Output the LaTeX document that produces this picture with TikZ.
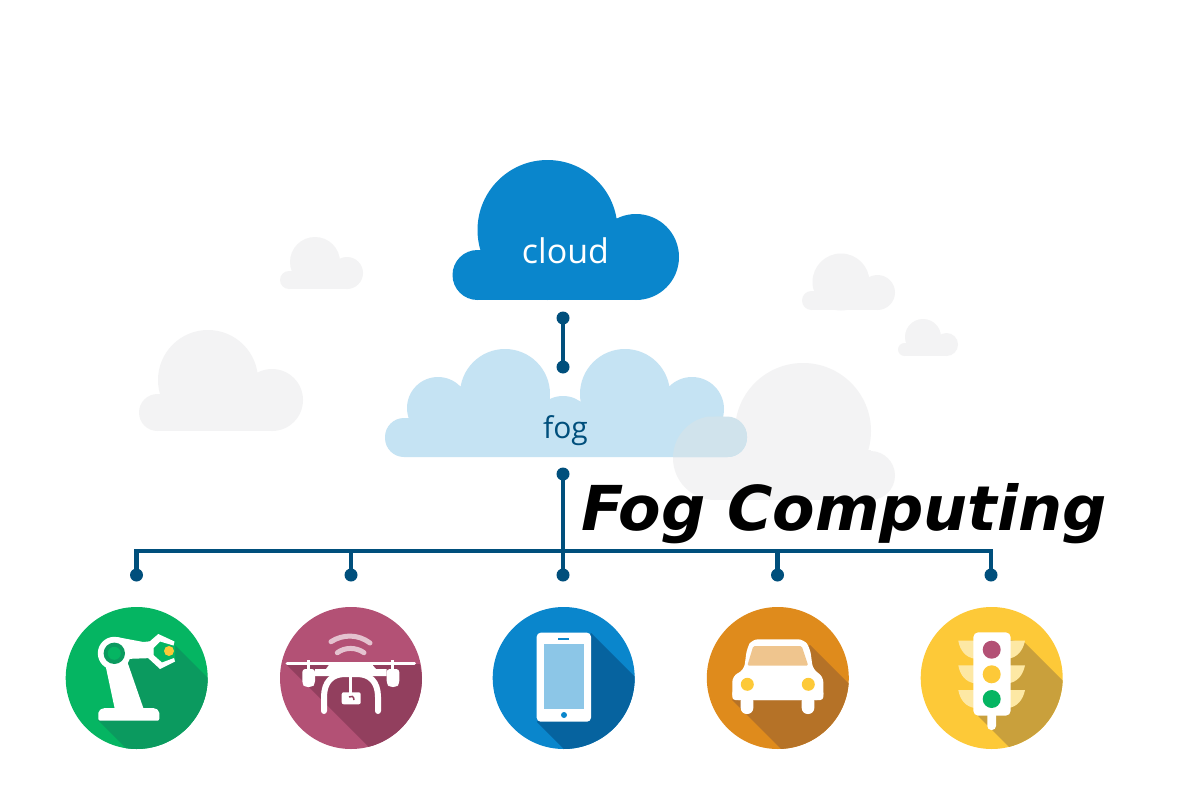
\documentclass[tikz,border=0pt]{standalone}
\usepackage{fontspec}
\setmainfont{Open Sans}
\newfontfamily\titlefont{DejaVu Sans}
\definecolor{cBlue}{HTML}{0A86CC}
\definecolor{cBlueD}{HTML}{06639F}
\definecolor{cFog}{HTML}{C5E3F3}
\definecolor{cOver}{HTML}{D0E3EC}
\definecolor{cGray}{HTML}{F3F3F4}
\definecolor{cLine}{HTML}{004F7C}
\definecolor{cGreen}{HTML}{05B562}
\definecolor{cGreenD}{HTML}{0B9A5F}
\definecolor{cPink}{HTML}{B35175}
\definecolor{cPinkD}{HTML}{923F5E}
\definecolor{cOrange}{HTML}{DF8B1C}
\definecolor{cOrangeD}{HTML}{B57227}
\definecolor{cYellow}{HTML}{FDC938}
\definecolor{cYellowD}{HTML}{C9A03C}
\definecolor{cWing}{HTML}{FDE8A4}
\tikzset{
  dotnode/.style={circle,fill=cLine,inner sep=0pt,minimum size=13pt},
  wire/.style={draw=cLine,line width=4.5pt},
  icon/.style={circle,inner sep=0pt,minimum size=142pt},
  wingshape/.style={fill=cWing},
}
\begin{document}
\begin{tikzpicture}[x=1pt,y=-1pt]
\useasboundingbox (0,0) rectangle (1200,800);
\fill[white] (0,0) rectangle (1200,800);
% grey clouds
\fill[cGray] (208,380) circle (50) (272,400) circle (31) (157.5,412.5) circle (18.5);
\fill[cGray] (157.5,394) rectangle (272,431);
\fill[cGray] (315,262) circle (25) (347,273) circle (16) (289,280) circle (9);
\fill[cGray] (289,271) rectangle (347,289);
\fill[cGray] (841,282) circle (28.5) (877.5,292.5) circle (17.5) (811.5,300.5) circle (9.5);
\fill[cGray] (811.5,291) rectangle (877.5,310);
\fill[cGray] (923,337) circle (18) (946.5,344.5) circle (11.5) (904.5,349.5) circle (6.5);
\fill[cGray] (904.5,343) rectangle (946.5,356);
\fill[cGray] (803,431) circle (68) (870.5,475.5) circle (24.5) (715,458) circle (42);
\fill[cGray] (715,450) rectangle (870.5,500);
% main cloud
\fill[cBlue] (547.5,230) circle (70) (636,257) circle (43) (477.5,275) circle (25);
\fill[cBlue] (477.5,250) rectangle (636,300);
\node[inner sep=0pt,text=white,font=\fontsize{34}{38}\selectfont] (cloudlabel) at (565.5,251) {cloud};
% fog cloud
\fill[cFog] (438,408) circle (31) (505,394) circle (45) (625,394) circle (45) (692,409) circle (32) (563,426) circle (30);
\fill[cFog] (438,410) rectangle (692,440);
\fill[cFog,rounded corners=19pt] (385,418) rectangle (747,457);
\begin{scope}
  \clip[rounded corners=20pt] (600,416.5) rectangle (747,457);
  \fill[cOver] (715,458) circle (42);
  \fill[cOver] (715,416) rectangle (747,457);
\end{scope}
\node[inner sep=0pt,text=cLine,font=\fontsize{30}{34}\selectfont] (foglabel) at (565.5,431) {fog};
% connectors
\node[dotnode] (d1) at (563,318) {};
\node[dotnode] (d2) at (563,367) {};
\node[dotnode] (d3) at (563,474) {};
\node[dotnode] (a1) at (136.5,575) {};
\node[dotnode] (a2) at (351,575) {};
\node[dotnode] (a3) at (563,575) {};
\node[dotnode] (a4) at (777.5,575) {};
\node[dotnode] (a5) at (991,575) {};
\coordinate (bus) at (563,551);
\draw[wire] (d1.center) -- (d2.center);
\draw[wire] (d3.center) -- (a3.center);
\draw[wire,line join=miter] (a1.center) -- (a1 |- bus) -- (a5 |- bus) -- (a5.center);
\draw[wire] (a2.center) -- (a2 |- bus);
\draw[wire] (a4.center) -- (a4 |- bus);
% robot
\node[icon,fill=cGreen] (i1) at (136.7,678) {};
\begin{scope}
\clip (136.7,678) circle (71);
\fill[cGreenD] (126,660)--(150,640)--(175,645)--(275,745)--(178,800)--(98,720)--(126,708)--cycle;
\fill[cGreen] (153,648)--(159,641)--(175,645)--(175,660)--(161.7,662.7)--(153,655)--cycle;
\end{scope}
\fill[white,rounded corners=2pt] (98.3,720.7)--(98.3,711)--(103,708)--(155,708)--(159.3,711)--(159.3,720.7)--cycle;
\fill[white] (105,663)--(126,658)--(143.3,708)--(115,710)--cycle;
\fill[white] (114.3,653.3) circle (16.5);
\fill[white] (116.7,637)--(143.3,642)--(153,641)--(153,658)--(125,659)--(114,669)--cycle;
\fill[white] (149,642)--(158.3,634)--(174.5,641.5)--(173.5,645.5)--(160,641.5)--(153.5,648)--(153.5,655)--(162,662.5)--(174,658)--(175,661.5)--(160,669)--(147,657)--cycle;
\fill[cGreenD] (114.3,653.3) circle (10.7);
\fill[cGreen] (114.3,653.3) circle (6.5);
\fill[cYellow] (169,651) circle (5);
% drone
\node[icon,fill=cPink] (i2) at (351,678) {};
\begin{scope}
\clip (351,678) circle (71);
\fill[cPinkD] (286,664)--(420,664)--(440,800)--(422,800)--cycle;
\end{scope}
\draw[white!65!cPink,line width=5pt,line cap=round] (331,641.7) .. controls (343,634) and (358,634) .. (370,643);
\draw[white!65!cPink,line width=5pt,line cap=round] (337.3,652.7) .. controls (345,647) and (356,647) .. (364,652.7);
\draw[white,line width=3pt,line cap=round] (287,663.3)--(331,663.3) (370,663.3)--(414.5,663.3);
\draw[white,line width=3pt] (308.3,660)--(308.3,670) (392.7,660)--(392.7,670);
\fill[white,rounded corners=3pt] (302.3,669)--(315,669)--(315,684)--(312,687)--(305,687)--(302.3,684)--cycle;
\fill[white,rounded corners=3pt] (386.7,669)--(399.3,669)--(399.3,684)--(396.3,687)--(389.7,687)--(386.7,684)--cycle;
\fill[white] (331,662)--(370,662)--(376,669)--(386.7,669)--(386.7,676)--(315,676)--(315,669)--(326,669)--cycle;
\draw[white,line width=6pt,line cap=round] (324,711) -- (324,697) .. controls (324,682) and (332,674) .. (345,674) -- (357,674) .. controls (370,674) and (378,682) .. (378,697) -- (378,711);
\draw[white,line width=3pt] (350.7,675)--(350.7,693);
\fill[white,rounded corners=2pt] (341.7,692.3) rectangle (360.7,704.3);
\draw[cPinkD,line width=1.5pt] (349,697) .. controls (351,695.5) and (354,696) .. (354,700);
% phone
\node[icon,fill=cBlue] (i3) at (563.7,678) {};
\begin{scope}
\clip (563.7,678) circle (71);
\fill[cBlueD] (591,633)--(691,733)--(691,800)--(615,800)--(537,722)--cycle;
\end{scope}
\fill[white,rounded corners=4pt] (536.7,632.7) rectangle (591,721.7);
\fill[cBlue!47!white] (543.7,644) rectangle (584.3,709);
\fill[cBlue] (558.3,637.7) rectangle (569.3,639.7);
\fill[cBlue] (564,715) circle (3);
% car
\node[icon,fill=cOrange] (i4) at (777.8,678) {};
\begin{scope}
\clip (777.8,678) circle (71);
\fill[cOrangeD] (810,645)--(910,745)--(880,800)--(832,800)--(732,700)--cycle;
\end{scope}
\fill[white,rounded corners=6pt] (732.3,700)--(732.3,676)--(744,670)--(747,648)--(752,639.3)--(804,639.3)--(810,648)--(813,670)--(823.3,676)--(823.3,700)--cycle;
\fill[white,rounded corners=3pt] (732.3,690) rectangle (823.3,700);
\fill[white,rounded corners=6pt] (740.7,695) rectangle (753.3,714);
\fill[white,rounded corners=6pt] (801.7,695) rectangle (814.3,714);
\fill[cOrange!50!white,rounded corners=1.5pt] (753.3,646)--(801.7,646)--(808.3,665.7)--(747.3,665.7)--cycle;
\fill[cYellow] (747.3,684.3) circle (6.5) (808.3,684.3) circle (6.5);
% traffic light
\node[icon,fill=cYellow] (i5) at (991.7,678) {};
\begin{scope}
\clip (991.7,678) circle (71);
\fill[cYellowD] (1010,640)--(1025,643)--(1125,743)--(1125,800)--(1062,800)--(978,716)--cycle;
\end{scope}
\foreach \wy in {640.7,665.3,690}{
  \fill[wingshape] (958.3,\wy) .. controls (960,\wy+10) and (966,\wy+17) .. (975,\wy+18) -- (975,\wy) -- cycle;
  \fill[wingshape] (1025,\wy) .. controls (1023,\wy+10) and (1017,\wy+17) .. (1008,\wy+18) -- (1008,\wy) -- cycle;
}
\fill[white,rounded corners=4pt] (987.3,710) rectangle (996,730);
\fill[white,rounded corners=5pt] (973.3,632.3) rectangle (1010.7,715.7);
\fill[cPink] (991.7,649.7) circle (9);
\fill[cYellow] (991.7,674.3) circle (9);
\fill[cGreen] (991.7,699) circle (9);
% title
\node[inner sep=0pt,anchor=west,font=\titlefont\bfseries\itshape\fontsize{61.9}{70}\selectfont] (title) at (581,513.5) {Fog Computing};
\end{tikzpicture}
\end{document}
